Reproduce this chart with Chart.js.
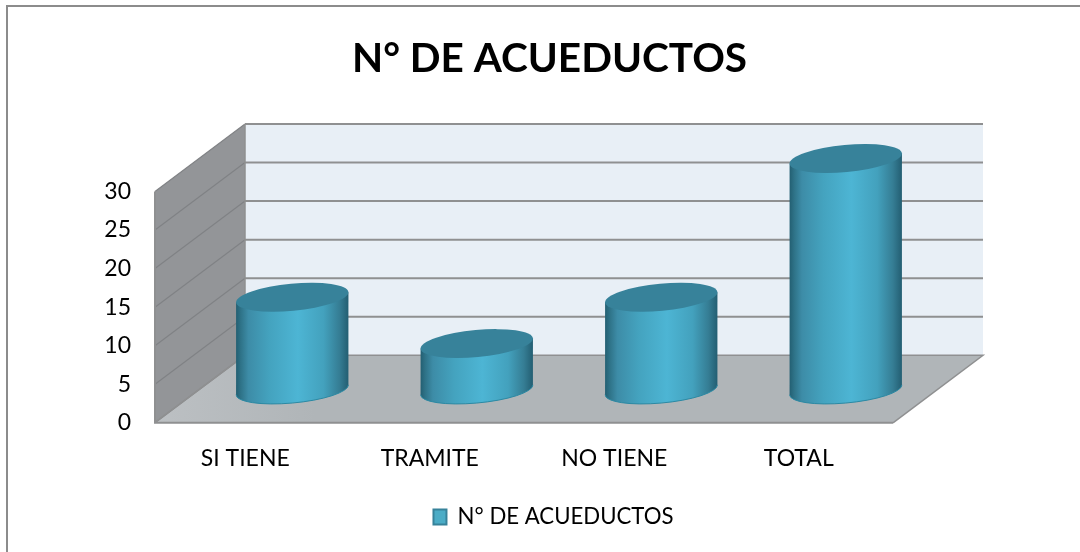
<!DOCTYPE html>
<html>
<head>
<meta charset="utf-8">
<style>html,body{margin:0;padding:0;background:#fff}canvas{display:block}</style>
<script src="https://cdn.jsdelivr.net/npm/chart.js@4"></script>
</head>
<body>
<canvas id="c" width="1080" height="552"></canvas>
<script>
const categories = ['SI TIENE', 'TRAMITE', 'NO TIENE', 'TOTAL'];
const acueductos = [12, 6, 12, 30];
const seriesName = 'N° DE ACUEDUCTOS';
const titleText = 'N° DE ACUEDUCTOS';

const DX = 90, DY = 67.5, CYL_DX = 45, CYL_DY = 33, RY = 13.2, TILT = -5.3 * Math.PI / 180;
const FONT = 'Lato, Carlito, sans-serif';

function cylinder(ctx, el) {
  const cx = el.x + CYL_DX, rx = el.width / 2 + 0.4;
  const topY = el.y - CYL_DY, baseY = el.base - CYL_DY;
  const t0 = Math.atan2(-RY * Math.sin(TILT), rx * Math.cos(TILT));
  const ex = rx * Math.cos(t0) * Math.cos(TILT) - RY * Math.sin(t0) * Math.sin(TILT);
  const ey = rx * Math.cos(t0) * Math.sin(TILT) + RY * Math.sin(t0) * Math.cos(TILT);
  const g = ctx.createLinearGradient(cx - ex, 0, cx + ex, 0);
  g.addColorStop(0, '#235f72');
  g.addColorStop(0.04, '#2e7287');
  g.addColorStop(0.11, '#3d8ca7');
  g.addColorStop(0.3, '#44a3bf');
  g.addColorStop(0.55, '#4db5d4');
  g.addColorStop(0.78, '#43a1bd');
  g.addColorStop(0.92, '#357d94');
  g.addColorStop(1, '#235e72');
  ctx.save();
  ctx.beginPath();
  ctx.ellipse(cx, baseY, rx, RY, TILT, t0, t0 + Math.PI, false);
  ctx.lineTo(cx - ex, topY - ey);
  ctx.lineTo(cx + ex, topY + ey);
  ctx.closePath();
  ctx.fillStyle = g;
  ctx.fill();
  ctx.beginPath();
  ctx.ellipse(cx, baseY, rx, RY, TILT, t0, t0 + Math.PI, false);
  ctx.strokeStyle = '#2c89a3';
  ctx.lineWidth = 1;
  ctx.stroke();
  ctx.beginPath();
  ctx.ellipse(cx, topY, rx, RY + 0.3, TILT, 0, Math.PI * 2);
  ctx.fillStyle = '#37829a';
  ctx.fill();
  ctx.restore();
}

const scene = {
  id: 'scene',
  beforeDraw(chart) {
    const ctx = chart.ctx;
    ctx.save();
    ctx.fillStyle = '#fff';
    ctx.fillRect(0, 0, chart.width, chart.height);
    ctx.strokeStyle = '#8c8c8c';
    ctx.lineWidth = 2;
    ctx.beginPath();
    ctx.moveTo(7, chart.height); ctx.lineTo(7, 6); ctx.lineTo(chart.width, 6);
    ctx.stroke();
    ctx.restore();
  },
  afterLayout(chart) {
    chart.titleBlock.left = 0; chart.titleBlock.right = 1099;
    chart.legend.left = 27; chart.legend.right = 1080;
  },
  beforeDatasetsDraw(chart) {
    const ctx = chart.ctx, y = chart.scales.y, a = chart.chartArea;
    const L = a.left, R = a.right, T = a.top, B = a.bottom;
    ctx.save();
    ctx.fillStyle = '#e8eff6';
    ctx.fillRect(L + DX, T - DY, R - L, B - T);
    ctx.fillStyle = '#939598';
    ctx.beginPath();
    ctx.moveTo(L, B); ctx.lineTo(L, T); ctx.lineTo(L + DX, T - DY); ctx.lineTo(L + DX, B - DY); ctx.closePath();
    ctx.fill();
    const fg = ctx.createLinearGradient(L, 0, L + 160, 0);
    fg.addColorStop(0, '#bcc0c3'); fg.addColorStop(1, '#b0b5b8');
    ctx.fillStyle = fg;
    ctx.beginPath();
    ctx.moveTo(L, B); ctx.lineTo(L + DX, B - DY); ctx.lineTo(R + DX, B - DY); ctx.lineTo(R, B); ctx.closePath();
    ctx.fill();
    y.ticks.forEach(t => {
      const p = y.getPixelForValue(t.value);
      ctx.strokeStyle = '#808285';
      ctx.lineWidth = 1.2;
      ctx.beginPath(); ctx.moveTo(L, p); ctx.lineTo(L + DX, p - DY); ctx.stroke();
      if (t.value > 0) {
        ctx.strokeStyle = '#8f9091';
        ctx.lineWidth = 2;
        ctx.beginPath(); ctx.moveTo(L + DX, p - DY); ctx.lineTo(R + DX, p - DY); ctx.stroke();
      }
    });
    ctx.strokeStyle = '#8f9091';
    ctx.lineWidth = 1.5;
    ctx.beginPath(); ctx.moveTo(L + DX, T - DY); ctx.lineTo(L + DX, B - DY); ctx.stroke();
    ctx.beginPath(); ctx.moveTo(L, B - 0.5); ctx.lineTo(L + DX, B - DY); ctx.lineTo(R + DX, B - DY); ctx.lineTo(R, B); ctx.stroke();
    ctx.lineWidth = 2;
    ctx.beginPath(); ctx.moveTo(L, T); ctx.lineTo(L, B); ctx.lineTo(R, B); ctx.stroke();
    ctx.restore();
  },
  beforeDatasetDraw(chart, args) {
    args.meta.data.forEach(el => cylinder(chart.ctx, el));
    return false;
  }
};

new Chart(document.getElementById('c'), {
  type: 'bar',
  data: {
    labels: categories,
    datasets: [{
      label: seriesName,
      data: acueductos,
      backgroundColor: '#4bacc6',
      borderColor: '#37829a',
      borderWidth: 2,
      categoryPercentage: 1,
      barPercentage: 0.607
    }]
  },
  plugins: [scene],
  options: {
    responsive: false,
    animation: false,
    layout: { padding: { left: 20, right: 187, top: 0, bottom: 14 } },
    plugins: {
      tooltip: { enabled: false },
      title: {
        display: true,
        text: titleText,
        color: '#000',
        font: { family: FONT, size: 40.5, weight: 'bold', lineHeight: 1.2 },
        padding: { top: 35, bottom: 107.9 }
      },
      legend: {
        position: 'bottom',
        labels: {
          color: '#000',
          boxWidth: 13,
          boxHeight: 15,
          padding: 14,
          font: { family: FONT, size: 22.2 }
        }
      }
    },
    scales: {
      x: {
        grid: { display: false },
        border: { display: false },
        ticks: { color: '#000', font: { family: FONT, size: 23 }, padding: 14, labelOffset: -2, maxRotation: 0 },
        afterFit(s) { s.height = 69; }
      },
      y: {
        min: 0,
        max: 30,
        grid: { display: false },
        border: { display: false },
        ticks: { stepSize: 5, color: '#000', font: { family: FONT, size: 23 }, padding: 16 },
        afterFit(s) { s.width = 135; }
      }
    }
  }
});
</script>
</body>
</html>
